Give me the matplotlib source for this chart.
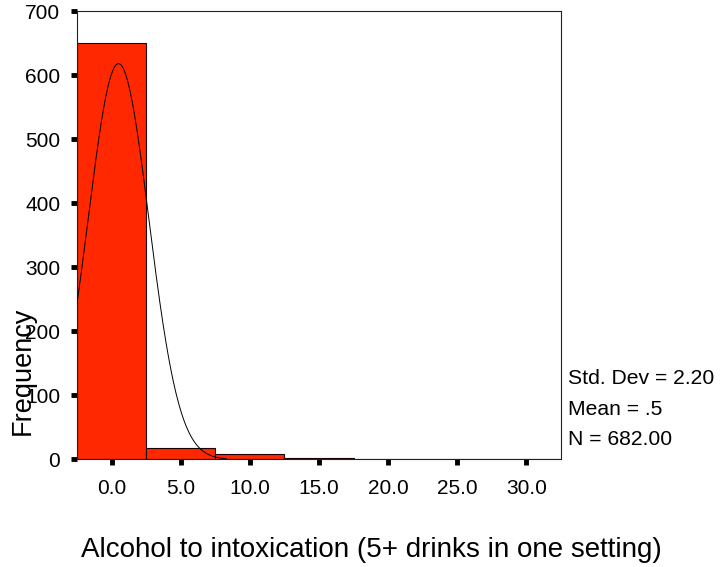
import numpy as np
import matplotlib.pyplot as plt

plt.rcParams['font.family'] = ['Liberation Sans', 'DejaVu Sans']

# histogram bins (centres, width 5) and counts
bin_centers = [0, 5, 10, 15, 20, 25, 30]
counts = [651, 18, 8, 3, 0, 1, 1]
BIN_WIDTH = 5

# summary stats printed beside the plot
STD_DEV = 2.20
MEAN = 0.5
N = 682

x_ticks = [0, 5, 10, 15, 20, 25, 30]
x_tick_labels = ["0.0", "5.0", "10.0", "15.0", "20.0", "25.0", "30.0"]
y_ticks = [0, 100, 200, 300, 400, 500, 600, 700]

fig = plt.figure(figsize=(7.2, 5.67), dpi=100)
ax = fig.add_axes([0.107, 0.1896, 0.672, 0.7904])

ax.bar(bin_centers, counts, width=BIN_WIDTH, color="#FF2800",
       edgecolor="#1a0000", linewidth=0.8, zorder=2)

# normal curve overlay from mean/sd/N
xs = np.linspace(-2.5, 8.3, 300)
pdf = np.exp(-0.5 * ((xs - MEAN) / STD_DEV) ** 2) / (STD_DEV * np.sqrt(2 * np.pi))
ax.plot(xs, pdf * N * BIN_WIDTH, color="black", linewidth=0.7, zorder=3)

ax.set_xlim(-2.5, 32.5)
ax.set_ylim(0, 700)
ax.set_xticks(x_ticks)
ax.set_xticklabels(x_tick_labels)
ax.set_yticks(y_ticks)

for s in ax.spines.values():
    s.set_linewidth(0.8)
    s.set_color("#222222")

ax.tick_params(axis="both", direction="out", length=4, width=3.5,
               labelsize=15, color="black")
ax.tick_params(axis="x", pad=10)
ax.tick_params(axis="y", pad=8)

# SPSS puts the y title low and overlapping the tick labels
fig.text(23 / 720, 1 - 371 / 567, "Frequency", rotation=90, fontsize=19.5,
         ha="center", va="center")
# x title is centred on the whole figure, not the axes
fig.text(371 / 720, 1 - 557 / 567, "Alcohol to intoxication (5+ drinks in one setting)",
         fontsize=20, ha="center", va="baseline")

fig.text(0.789, 0.333, f"Std. Dev = {STD_DEV:.2f}", fontsize=15.2, va="center")
fig.text(0.789, 0.277, "Mean = .5", fontsize=15.2, va="center")
fig.text(0.789, 0.224, f"N = {N:.2f}", fontsize=15.2, va="center")

plt.savefig("out.png", dpi=100)
